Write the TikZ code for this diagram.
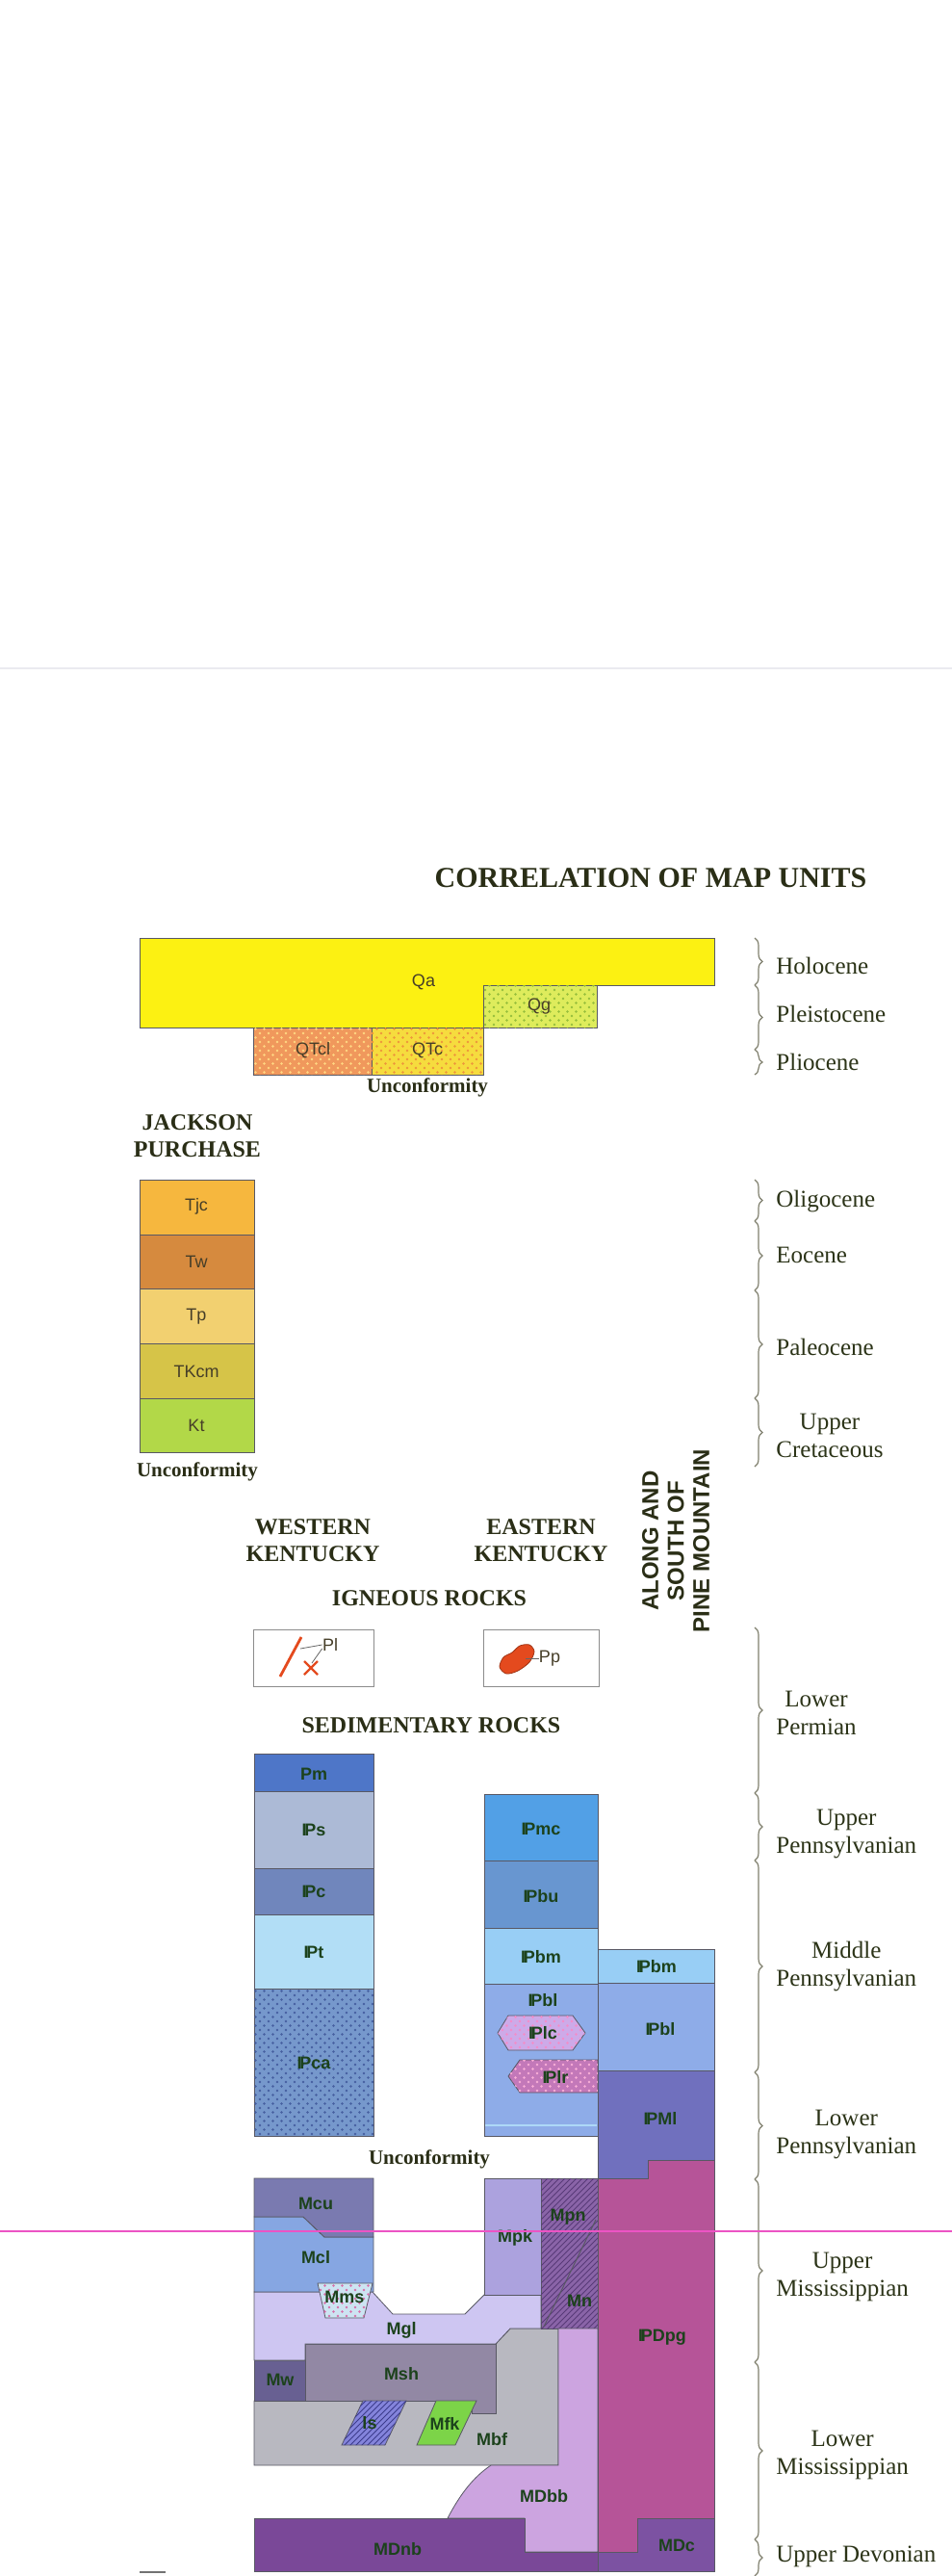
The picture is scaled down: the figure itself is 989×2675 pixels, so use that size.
\documentclass[tikz,border=0pt]{standalone}
\usepackage{fontspec}
\setmainfont{Liberation Serif}
\setsansfont{Liberation Sans}
\usetikzlibrary{patterns,decorations.pathreplacing}
\pgfdeclarepatternformonly{stipple}{\pgfqpoint{-1pt}{-1pt}}{\pgfqpoint{5.5pt}{5.5pt}}{\pgfqpoint{4.5pt}{4.5pt}}{%
  \pgfpathcircle{\pgfqpoint{0pt}{0pt}}{0.7pt}%
  \pgfpathcircle{\pgfqpoint{2.25pt}{2.25pt}}{0.7pt}%
  \pgfusepath{fill}}
\definecolor{headc}{RGB}{42,46,22}
\definecolor{agec}{RGB}{44,52,24}
\definecolor{labc}{RGB}{28,66,28}
\definecolor{labq}{RGB}{70,62,40}
\definecolor{edgec}{RGB}{88,88,100}
\definecolor{bracec}{RGB}{128,128,110}
\definecolor{cQa}{RGB}{252,241,18}
\definecolor{cQg}{RGB}{222,236,92}
\definecolor{cQgd}{RGB}{150,190,60}
\definecolor{cQTcl}{RGB}{240,152,92}
\definecolor{cQTcld}{RGB}{255,215,130}
\definecolor{cQTc}{RGB}{246,220,62}
\definecolor{cQTcd}{RGB}{238,150,60}
\definecolor{cTjc}{RGB}{246,183,62}
\definecolor{cTw}{RGB}{214,138,62}
\definecolor{cTp}{RGB}{242,208,112}
\definecolor{cTKcm}{RGB}{214,196,72}
\definecolor{cKt}{RGB}{178,216,72}
\definecolor{cPm}{RGB}{78,118,200}
\definecolor{cPs}{RGB}{172,186,214}
\definecolor{cPc}{RGB}{112,134,188}
\definecolor{cPt}{RGB}{178,222,246}
\definecolor{cPca}{RGB}{118,152,204}
\definecolor{cPcad}{RGB}{70,95,160}
\definecolor{cPmc}{RGB}{82,160,230}
\definecolor{cPbu}{RGB}{104,150,208}
\definecolor{cPbm}{RGB}{152,206,245}
\definecolor{cPbl}{RGB}{142,172,232}
\definecolor{cPlc}{RGB}{205,170,232}
\definecolor{cPlcd}{RGB}{245,140,200}
\definecolor{cPlr}{RGB}{195,120,185}
\definecolor{cPlrd}{RGB}{250,175,215}
\definecolor{cPMl}{RGB}{112,112,190}
\definecolor{cPDpg}{RGB}{182,84,152}
\definecolor{cMcu}{RGB}{122,122,176}
\definecolor{cMcl}{RGB}{134,166,226}
\definecolor{cMms}{RGB}{205,228,242}
\definecolor{cMmsd}{RGB}{215,110,170}
\definecolor{cMgl}{RGB}{206,198,242}
\definecolor{cMpk}{RGB}{172,162,222}
\definecolor{cMpn}{RGB}{138,100,168}
\definecolor{cMpnd}{RGB}{88,58,120}
\definecolor{cMsh}{RGB}{146,136,164}
\definecolor{cMw}{RGB}{104,96,146}
\definecolor{cMbf}{RGB}{184,184,192}
\definecolor{cls}{RGB}{132,132,220}
\definecolor{clsd}{RGB}{60,60,140}
\definecolor{cMfk}{RGB}{124,212,72}
\definecolor{cMDbb}{RGB}{204,164,224}
\definecolor{cMDnb}{RGB}{122,72,152}
\definecolor{cMDc}{RGB}{124,82,162}
\definecolor{ignred}{RGB}{228,74,30}
\definecolor{pinkline}{RGB}{236,84,196}
\definecolor{faint}{RGB}{234,234,240}
\newcommand{\pn}{I\kern-.13em P}
\begin{document}
\begin{tikzpicture}[x=0.5pt,y=-0.5pt,
  unit/.style={draw=edgec,line width=0.4pt},
  stip/.style 2 args={fill=#1,postaction={pattern=stipple,pattern color=#2}},
  hatch/.style 2 args={fill=#1,postaction={pattern=north east lines,pattern color=#2}},
  ulab/.style={font=\sffamily\fontsize{9}{10}\selectfont,text=labq,inner sep=0pt},
  ulabb/.style={font=\sffamily\bfseries\fontsize{9}{10}\selectfont,text=labc,inner sep=0pt},
  agelab/.style={font=\fontsize{12.5}{14.5}\selectfont,text=agec,align=center,anchor=west,inner sep=0pt},
  head/.style={font=\bfseries\fontsize{12}{14}\selectfont,text=headc,align=center,inner sep=0pt},
  unconf/.style={font=\bfseries\fontsize{10.5}{12}\selectfont,text=headc,inner sep=0pt},
  agebrace/.style={draw=bracec,line width=0.6pt,decorate,decoration={brace,amplitude=4pt}},
  ignbox/.style={draw=black!45,line width=0.5pt,fill=white}]
\fill[white] (0,0) rectangle (989,2675);
\useasboundingbox (0,0) rectangle (989,2675);
% faint scan line
\draw[faint,line width=0.8pt] (0,694) -- (989,694);

% title
\node[font=\bfseries\fontsize{15}{17}\selectfont,text=headc,inner sep=0pt] (title) at (676,912) {CORRELATION OF MAP UNITS};

% Quaternary
\path[unit,fill=cQa] (145,974) -- (742,974) -- (742,1023) -- (502,1023) -- (502,1067) -- (145,1067) -- cycle;
\path[unit,stip={cQg}{cQgd}] (502,1023) rectangle (620,1067);
\path[unit,stip={cQTcl}{cQTcld}] (263,1067) rectangle (386,1116);
\path[unit,stip={cQTc}{cQTcd}] (386,1067) rectangle (502,1116);
\node[ulab] (Qa) at (440,1020) {Qa};
\node[ulab] (Qg) at (560,1045) {Qg};
\node[ulab] (QTcl) at (325,1091) {QTcl};
\node[ulab] (QTc) at (444,1091) {QTc};
\node[unconf] (unc1) at (444,1129) {Unconformity};

% Jackson Purchase
\node[head] (jp) at (205,1180) {JACKSON\\PURCHASE};
\path[unit,fill=cTjc] (145,1225) rectangle (264,1282);
\path[unit,fill=cTw] (145,1282) rectangle (264,1338);
\path[unit,fill=cTp] (145,1338) rectangle (264,1395);
\path[unit,fill=cTKcm] (145,1395) rectangle (264,1452);
\path[unit,fill=cKt] (145,1452) rectangle (264,1508);
\node[ulab] (Tjc) at (204,1253) {Tjc};
\node[ulab] (Tw) at (204,1310) {Tw};
\node[ulab] (Tp) at (204,1367) {Tp};
\node[ulab] (TKcm) at (204,1424) {TKcm};
\node[ulab] (Kt) at (204,1480) {Kt};
\node[unconf] (unc2) at (205,1528) {Unconformity};

% column headings
\node[head] (wk) at (325,1600) {WESTERN\\KENTUCKY};
\node[head] (ek) at (562,1600) {EASTERN\\KENTUCKY};
\node[head] (ign) at (446,1660) {IGNEOUS ROCKS};
\node[head] (sed) at (448,1792) {SEDIMENTARY ROCKS};
\node[font=\sffamily\bfseries\fontsize{12}{13.25}\selectfont,text=headc,align=center,rotate=90,inner sep=0pt] (pine) at (702,1600) {ALONG AND\\SOUTH OF\\PINE MOUNTAIN};

% igneous rocks
\node[ignbox,minimum width=62.5pt,minimum height=29.5pt,inner sep=0pt] (ignW) at (325.5,1721.5) {};
\node[ignbox,minimum width=60pt,minimum height=29.5pt,inner sep=0pt] (ignE) at (562,1721.5) {};
\draw[ignred,line width=1.4pt] (291,1741) -- (313,1700);
\draw[ignred,line width=1.1pt] (316,1725) -- (330,1739) (330,1725) -- (316,1739);
\node[font=\sffamily\fontsize{9}{10}\selectfont,text=labq,inner sep=0pt] (Pl) at (343,1708) {Pl};
\draw[black!60,line width=0.4pt] (Pl.west) -- (312,1712);
\draw[black!60,line width=0.4pt] ([yshift=-2pt]Pl.west) -- (324,1727);
\path[fill=ignred,draw=ignred!70!black,line width=0.4pt] plot[smooth cycle] coordinates {(519,1731) (523,1721) (532,1716) (540,1709) (550,1708) (555,1715) (550,1726) (538,1735) (526,1738)};
\node[font=\sffamily\fontsize{9}{10}\selectfont,text=labq,inner sep=0pt] (Pp) at (571,1722) {Pp};
\draw[black!60,line width=0.4pt] (Pp.west) -- (546,1722);

% western Pennsylvanian
\path[unit,fill=cPm] (264,1821) rectangle (388,1860);
\path[unit,fill=cPs] (264,1860) rectangle (388,1940);
\path[unit,fill=cPc] (264,1940) rectangle (388,1988);
\path[unit,fill=cPt] (264,1988) rectangle (388,2065);
\path[unit,stip={cPca}{cPcad}] (264,2065) rectangle (388,2218);
\node[ulabb] (Pm) at (326,1842) {Pm};
\node[ulabb] (Ps) at (326,1900) {\pn s};
\node[ulabb] (Pc) at (326,1964) {\pn c};
\node[ulabb] (Pt) at (326,2027) {\pn t};
\node[ulabb] (Pca) at (326,2142) {\pn ca};

% eastern Pennsylvanian
\path[unit,fill=cPmc] (503,1863) rectangle (621,1932);
\path[unit,fill=cPbu] (503,1932) rectangle (621,2002);
\path[unit,fill=cPbm] (503,2002) rectangle (621,2060);
\path[unit,fill=cPbl] (503,2060) rectangle (621,2218);
\draw[cPbm!80!white,line width=0.8pt] (504,2207) -- (620,2207);
\path[unit,stip={cPlc}{cPlcd}] (517,2111) -- (528,2093) -- (595,2093) -- (608,2111) -- (595,2129) -- (528,2129) -- cycle;
\path[unit,stip={cPlr}{cPlrd}] (528,2156) -- (540,2139) -- (621,2139) -- (621,2173) -- (540,2173) -- cycle;
\node[ulabb] (Pmc) at (562,1899) {\pn mc};
\node[ulabb] (Pbu) at (562,1969) {\pn bu};
\node[ulabb] (Pbm) at (562,2032) {\pn bm};
\node[ulabb] (Pbl) at (564,2077) {\pn bl};
\node[ulabb] (Plc) at (564,2111) {\pn lc};
\node[ulabb] (Plr) at (577,2157) {\pn lr};

% Pine Mountain column
\path[unit,fill=cPbm] (621,2024) rectangle (742,2059);
\path[unit,fill=cPbl] (621,2059) rectangle (742,2150);
\path[unit,fill=cPMl] (621,2150) rectangle (742,2262);
\node[ulabb] (Pbm2) at (682,2042) {\pn bm};
\node[ulabb] (Pbl2) at (686,2107) {\pn bl};
\node[ulabb] (PMl) at (686,2200) {\pn Ml};

\node[unconf] (unc3) at (446,2242) {Unconformity};

% Mississippian and Devonian
\path[unit,fill=cMbf] (264,2493) -- (515,2493) -- (515,2434) -- (530,2418) -- (580,2418) -- (580,2560) -- (264,2560) -- cycle;
\path[unit,fill=cMsh] (317,2434) -- (515,2434) -- (515,2506) -- (490,2506) -- (490,2493) -- (317,2493) -- cycle;
\path[unit,fill=cMw] (264,2451) rectangle (317,2493);
\path[unit,fill=cMgl] (264,2380) -- (387,2380) -- (408,2403) -- (483,2403) -- (503,2383) -- (562,2383) -- (562,2418) -- (530,2418) -- (515,2434) -- (317,2434) -- (317,2451) -- (264,2451) -- cycle;
\path[unit,fill=cMcl] (264,2302) -- (315,2302) -- (337,2323) -- (388,2323) -- (388,2380) -- (264,2380) -- cycle;
\path[unit,fill=cMcu] (264,2262) -- (388,2262) -- (388,2323) -- (337,2323) -- (315,2302) -- (264,2302) -- cycle;
\path[unit,stip={cMms}{cMmsd}] (330,2371) -- (387,2371) -- (378,2407) -- (338,2407) -- cycle;
\path[unit,fill=cMpk] (503,2262) rectangle (562,2383);
\path[unit,hatch={cMpn}{cMpnd}] (562,2262) rectangle (621,2418);
\draw[edgec,line width=0.5pt] (565,2416) -- (619,2305);
\path[unit,fill=cMDbb] (580,2418) -- (621,2418) -- (621,2650) -- (545,2650) -- (545,2615) -- (465,2615) .. controls (478,2590) and (492,2572) .. (510,2560) -- (580,2560) -- cycle;
\path[unit,fill=cMDnb] (264,2615) -- (545,2615) -- (545,2650) -- (621,2650) -- (621,2670) -- (264,2670) -- cycle;
\path[unit,fill=cPDpg] (621,2262) -- (673,2262) -- (673,2243) -- (742,2243) -- (742,2615) -- (662,2615) -- (662,2650) -- (621,2650) -- cycle;
\path[unit,fill=cMDc] (662,2615) -- (742,2615) -- (742,2670) -- (621,2670) -- (621,2650) -- (662,2650) -- cycle;
\path[unit,hatch={cls}{clsd}] (355,2539) -- (377,2493) -- (422,2493) -- (400,2539) -- cycle;
\path[unit,fill=cMfk] (433,2539) -- (453,2493) -- (495,2493) -- (473,2539) -- cycle;

\node[ulabb] (Mcu) at (328,2288) {Mcu};
\node[ulabb] (Mcl) at (328,2344) {Mcl};
\node[ulabb] (Mms) at (358,2385) {Mms};
\node[ulabb] (Mgl) at (417,2420) {Mgl};
\node[ulabb] (Mpk) at (535,2324) {Mpk};
\node[ulabb] (Mpn) at (590,2302) {Mpn};
\node[ulabb] (Mn) at (602,2389) {Mn};
\node[ulabb] (PDpg) at (688,2427) {\pn Dpg};
\node[ulabb] (Mw) at (291,2471) {Mw};
\node[ulabb] (Msh) at (417,2465) {Msh};
\node[ulabb] (ls) at (384,2516) {ls};
\node[ulabb] (Mfk) at (462,2517) {Mfk};
\node[ulabb] (Mbf) at (511,2533) {Mbf};
\node[ulabb] (MDbb) at (565,2592) {MDbb};
\node[ulabb] (MDnb) at (413,2647) {MDnb};
\node[ulabb] (MDc) at (703,2643) {MDc};

% age braces
\draw[agebrace] (784,974) -- (784,1023);
\draw[agebrace] (784,1023) -- (784,1090);
\draw[agebrace] (784,1090) -- (784,1116);
\draw[agebrace] (784,1225) -- (784,1268);
\draw[agebrace] (784,1268) -- (784,1340);
\draw[agebrace] (784,1340) -- (784,1452);
\draw[agebrace] (784,1452) -- (784,1523);
\draw[agebrace] (784,1690) -- (784,1862);
\draw[agebrace] (784,1862) -- (784,1932);
\draw[agebrace] (784,1932) -- (784,2152);
\draw[agebrace] (784,2152) -- (784,2263);
\draw[agebrace] (784,2263) -- (784,2453);
\draw[agebrace] (784,2453) -- (784,2637);
\draw[agebrace] (784,2637) -- (784,2675);

\node[agelab] (hol) at (806,1003) {Holocene};
\node[agelab] (ple) at (806,1053) {Pleistocene};
\node[agelab] (pli) at (806,1103) {Pliocene};
\node[agelab] (oli) at (806,1248) {Oligocene};
\node[agelab] (eoc) at (806,1303) {Eocene};
\node[agelab] (pal) at (806,1399) {Paleocene};
\node[agelab] (ucr) at (806,1491) {Upper\\Cretaceous};
\node[agelab] (lpe) at (806,1779) {Lower\\Permian};
\node[agelab] (upa) at (806,1904) {Upper\\Pennsylvanian};
\node[agelab] (mpa) at (806,2042) {Middle\\Pennsylvanian};
\node[agelab] (lpa) at (806,2216) {Lower\\Pennsylvanian};
\node[agelab] (umi) at (806,2364) {Upper\\Mississippian};
\node[agelab] (lmi) at (806,2549) {Lower\\Mississippian};
\node[agelab] (ude) at (806,2655) {Upper Devonian};

% stray mark and pink scan line
\draw[black!55,line width=0.6pt] (145,2671) -- (172,2671);
\draw[pinkline,line width=1pt] (0,2317) -- (989,2317);
\end{tikzpicture}
\end{document}
